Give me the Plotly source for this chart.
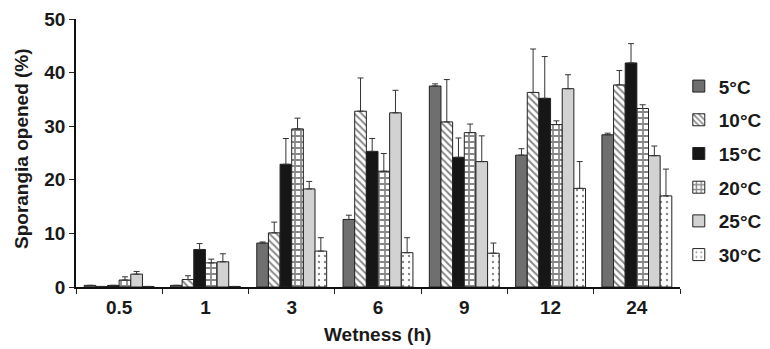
import plotly.graph_objects as go

categories = ["0.5", "1", "3", "6", "9", "12", "24"]
series_names = ["5°C", "10°C", "15°C", "20°C", "25°C", "30°C"]

v5 = [0.3, 0.3, 8.2, 12.6, 37.5, 24.6, 28.4]
v10 = [0.1, 1.4, 10.1, 32.8, 30.8, 36.3, 37.7]
v15 = [0.3, 7.0, 22.9, 25.3, 24.2, 35.2, 41.8]
v20 = [1.3, 4.5, 29.5, 21.6, 28.8, 30.3, 33.3]
v25 = [2.4, 4.7, 18.3, 32.5, 23.4, 37.0, 24.5]
v30 = [0.1, 0.1, 6.7, 6.4, 6.3, 18.4, 17.0]

e5 = [0.0, 0.0, 0.2, 0.8, 0.4, 1.2, 0.3]
e10 = [0.0, 0.7, 2.0, 6.2, 7.9, 8.1, 2.7]
e15 = [0.0, 1.1, 4.8, 2.4, 3.6, 7.8, 3.6]
e20 = [0.6, 0.7, 2.0, 3.3, 1.6, 0.7, 0.7]
e25 = [0.5, 1.5, 1.4, 4.2, 4.8, 2.6, 1.8]
e30 = [0.0, 0.0, 2.5, 2.8, 1.9, 5.0, 5.0]

x_title = "Wetness (h)"
y_title = "Sporangia opened (%)"

values = [v5, v10, v15, v20, v25, v30]
errors = [e5, e10, e15, e20, e25, e30]

styles = [
    dict(color="#6f6f6f", pattern=dict(shape="")),
    dict(color="white", pattern=dict(shape="\\", fgcolor="#111111", size=5, solidity=0.4)),
    dict(color="#161616", pattern=dict(shape="")),
    dict(color="white", pattern=dict(shape="+", fgcolor="#111111", size=6, solidity=0.5)),
    dict(color="#d2d2d2", pattern=dict(shape="")),
    dict(color="white", pattern=dict(shape=".", fgcolor="#111111", size=6, solidity=0.12)),
]

fig = go.Figure()
for i, (name, vals, errs, st) in enumerate(zip(series_names, values, errors, styles)):
    fig.add_trace(go.Bar(
        x=categories, y=vals, name=name, legendgroup=name,
        marker=dict(color=st["color"], pattern=st["pattern"],
                    line=dict(color="#222222", width=1)),
        error_y=dict(type="data", symmetric=False, array=errs,
                     arrayminus=[0] * len(errs), color="#333333",
                     thickness=1, width=3),
    ))

font_family = "Liberation Sans, Arial, sans-serif"
fig.update_layout(
    width=770, height=349,
    margin=dict(l=76, r=90, t=19, b=62, autoexpand=False),
    paper_bgcolor="white", plot_bgcolor="white",
    barmode="group", bargap=0.19, bargroupgap=0,
    font=dict(family=font_family, size=19, color="#1a1a1a", weight="bold"),
    legend=dict(x=0.998, xanchor="left", y=0.82, yanchor="top",
                font=dict(size=19, family=font_family, weight="bold"),
                tracegroupgap=6, itemwidth=30, bgcolor="rgba(0,0,0,0)"),
    xaxis=dict(type="category", tickson="boundaries", ticks="outside", ticklen=5,
               tickcolor="#222222", showline=True, linecolor="#111111", linewidth=2,
               showgrid=False, tickfont=dict(size=19, weight="bold"),
               ticklabelstandoff=2),
    yaxis=dict(range=[0, 50], dtick=10, ticks="outside", ticklen=5, tickcolor="#222222",
               showline=True, linecolor="#111111", linewidth=1.5, showgrid=False,
               zeroline=False, tickfont=dict(size=19, weight="bold")),
    annotations=[
        dict(text=x_title, xref="paper", yref="paper", x=0.499, y=-0.179,
             xanchor="center", yanchor="middle", showarrow=False,
             font=dict(size=19, weight="bold", family=font_family)),
        dict(text=y_title, xref="paper", yref="paper", x=-0.0894, y=0.515,
             xanchor="center", yanchor="middle", textangle=-90, showarrow=False,
             font=dict(size=19, weight="bold", family=font_family)),
    ],
)

fig.write_html("out.html")
